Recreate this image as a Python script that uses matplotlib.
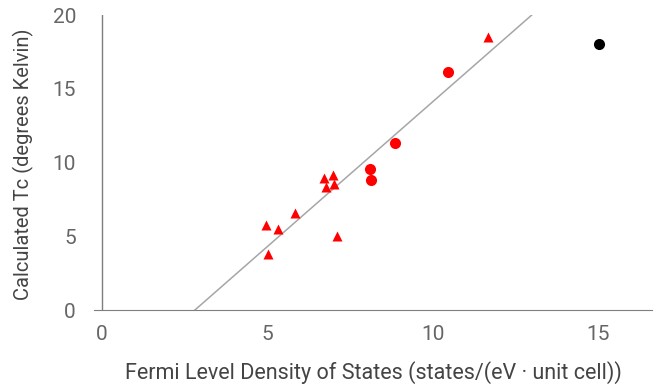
import numpy as np
import matplotlib as mp
mp.use('Agg')
import matplotlib.pyplot as plt

plt.rcParams['font.family'] = ['Roboto', 'DejaVu Sans']

# triangles (red)
tri_x = [6.72, 6.99, 6.78, 7.02, 5.85, 4.97, 5.33, 5.03, 7.11, 11.68]
tri_y = [8.95, 9.15, 8.34, 8.54, 6.58, 5.76, 5.49, 3.80, 5.02, 18.5]
# circles (red)
circ_x = [8.11, 8.14, 8.87, 10.47]
circ_y = [9.56, 8.81, 11.32, 16.14]
# black circle
blk_x = [15.03]
blk_y = [18.03]
# trend line
slope = 1.965
intercept = -5.54

xticks = [0, 5, 10, 15]
yticks = [0, 5, 10, 15, 20]

txt = '#666666'

fig = plt.figure(figsize=(6.67, 3.88), dpi=100)
ax = fig.add_axes([94/667, 1-310/388, (652-94)/667, (310-15)/388])

fx = np.array([-intercept/slope, (20-intercept)/slope])
ax.plot(fx, slope*fx + intercept, '-', color='#a6a6a6', lw=1.1, zorder=1)
ax.plot(tri_x, tri_y, '^', color='red', ms=6.5, mec='none', zorder=3)
ax.plot(circ_x, circ_y, 'o', color='red', ms=8, mec='none', zorder=3)
ax.plot(blk_x, blk_y, 'o', color='black', ms=8, mec='none', zorder=3)
ax.axvline(0, color='#7f7f7f', lw=1, zorder=2)

ax.set_xlim(-0.23, 16.63)
ax.set_ylim(0, 20)
ax.set_xticks(xticks)
ax.set_yticks(yticks)
for s in ['top', 'right', 'left']:
  ax.spines[s].set_visible(False)
ax.spines['bottom'].set_color('#7f7f7f')
ax.tick_params(length=0, labelsize=15, labelcolor=txt)
ax.tick_params(axis='x', pad=11)
ax.tick_params(axis='y', pad=13)

ax.set_xlabel('Fermi Level Density of States (states/(eV \u00b7 unit cell))',
              fontsize=15.5, color='#444444', labelpad=12)
ax.set_ylabel('Calculated Tc (degrees Kelvin)', fontsize=14.5, color='#444444')
ax.yaxis.set_label_coords(-0.108, 0.495)

plt.savefig('out.png', dpi=100)
